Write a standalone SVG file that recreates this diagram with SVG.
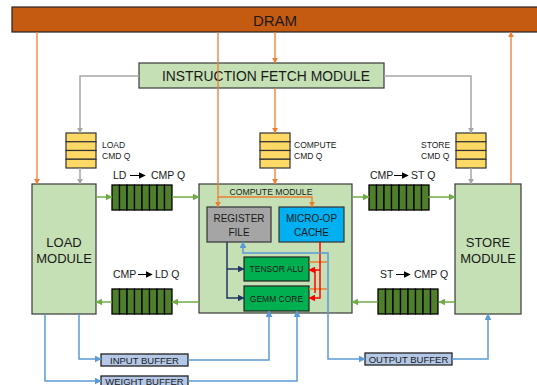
<svg xmlns="http://www.w3.org/2000/svg" width="537" height="385" viewBox="0 0 537 385">
<defs>
<style>
text{font-family:"Liberation Sans",Arial,sans-serif;fill:#1a1a1a}
.mod{fill:#c5e0b4;stroke:#3a3a3a;stroke-width:1.2}
.q{fill:#ffd966;stroke:#333;stroke-width:1.2}
.sq{fill:#4f7f2a;stroke:#000;stroke-width:1.3}
.buf{fill:#b4c7e7;stroke:#222;stroke-width:1.3}
.or{stroke:#ed7d31;stroke-width:1.3;fill:none}
.gr{stroke:#a6a6a6;stroke-width:1.5;fill:none}
.gn{stroke:#70ad47;stroke-width:1.5;fill:none}
.lb{stroke:#5b9bd5;stroke-width:1.5;fill:none}
.db{stroke:#203864;stroke-width:1.5;fill:none}
.rd{stroke:#ff0000;stroke-width:1.5;fill:none}
.lbl{font-size:8.5px}
.big{font-size:13px}
</style>
<marker id="aO" viewBox="0 0 10 10" refX="9" refY="5" markerWidth="6" markerHeight="6" markerUnits="userSpaceOnUse" orient="auto-start-reverse"><path d="M0,0L10,5L0,10z" fill="#ed7d31"/></marker>
<marker id="aG" viewBox="0 0 10 10" refX="9" refY="5" markerWidth="6" markerHeight="6" markerUnits="userSpaceOnUse" orient="auto-start-reverse"><path d="M0,0L10,5L0,10z" fill="#a6a6a6"/></marker>
<marker id="aN" viewBox="0 0 10 10" refX="9" refY="5" markerWidth="7" markerHeight="7" markerUnits="userSpaceOnUse" orient="auto-start-reverse"><path d="M0,0L10,5L0,10z" fill="#70ad47"/></marker>
<marker id="aL" viewBox="0 0 10 10" refX="9" refY="5" markerWidth="7" markerHeight="7" markerUnits="userSpaceOnUse" orient="auto-start-reverse"><path d="M0,0L10,5L0,10z" fill="#5b9bd5"/></marker>
<marker id="aD" viewBox="0 0 10 10" refX="9" refY="5" markerWidth="7" markerHeight="7" markerUnits="userSpaceOnUse" orient="auto-start-reverse"><path d="M0,0L10,5L0,10z" fill="#203864"/></marker>
<marker id="aR" viewBox="0 0 10 10" refX="9" refY="5" markerWidth="7" markerHeight="7" markerUnits="userSpaceOnUse" orient="auto-start-reverse"><path d="M0,0L10,5L0,10z" fill="#ff0000"/></marker>
<marker id="aK" viewBox="0 0 10 10" refX="9" refY="5" markerWidth="7" markerHeight="7" markerUnits="userSpaceOnUse" orient="auto-start-reverse"><path d="M0,0L10,5L0,10z" fill="#000"/></marker>
<g id="slots">
<rect class="sq" x="0" y="0" width="7.5" height="25"/><rect class="sq" x="7.5" y="0" width="7.5" height="25"/><rect class="sq" x="15" y="0" width="7.5" height="25"/><rect class="sq" x="22.5" y="0" width="7.5" height="25"/><rect class="sq" x="30" y="0" width="7.5" height="25"/><rect class="sq" x="37.5" y="0" width="7.5" height="25"/><rect class="sq" x="45" y="0" width="7.5" height="25"/><rect class="sq" x="52.5" y="0" width="7.5" height="25"/>
</g>
<g id="cmdq">
<rect class="q" x="0" y="0" width="30" height="8.75"/><rect class="q" x="0" y="8.75" width="30" height="8.75"/><rect class="q" x="0" y="17.5" width="30" height="8.75"/><rect class="q" x="0" y="26.25" width="30" height="8.75"/>
</g>
</defs>
<rect width="537" height="385" fill="#fff"/>

<g id="dram">
<rect x="12" y="7" width="530" height="25" fill="#c55a11" stroke="#222" stroke-width="1.2"/>
<text x="275" y="25.5" font-size="15" text-anchor="middle">DRAM</text>
</g>

<g id="ifm">
<rect class="mod" x="139" y="63" width="245" height="25"/>
<text x="266" y="81" font-size="14.5" text-anchor="middle" textLength="208" lengthAdjust="spacingAndGlyphs">INSTRUCTION FETCH MODULE</text>
</g>

<g id="load-cmd-q">
<use href="#cmdq" x="66" y="133"/>
<text class="lbl" x="102" y="148">LOAD</text>
<text class="lbl" x="102" y="159">CMD Q</text>
</g>
<g id="compute-cmd-q">
<use href="#cmdq" x="260" y="133"/>
<text class="lbl" x="294" y="148">COMPUTE</text>
<text class="lbl" x="294" y="159">CMD Q</text>
</g>
<g id="store-cmd-q">
<use href="#cmdq" x="456" y="133"/>
<text class="lbl" x="421" y="148">STORE</text>
<text class="lbl" x="421" y="159">CMD Q</text>
</g>

<g id="load-module">
<rect class="mod" x="32" y="184" width="64" height="130"/>
<text class="big" x="64" y="247" text-anchor="middle">LOAD</text>
<text class="big" x="64" y="263" text-anchor="middle">MODULE</text>
</g>
<g id="store-module">
<rect class="mod" x="455" y="184" width="66" height="130"/>
<text class="big" x="488" y="247" text-anchor="middle">STORE</text>
<text class="big" x="488" y="263" text-anchor="middle">MODULE</text>
</g>

<g id="ld-cmp-q">
<use href="#slots" x="112" y="185"/>
<text x="113" y="179" font-size="10.5">LD</text>
<path d="M130,175.5H145" stroke="#000" stroke-width="1" marker-end="url(#aK)"/>
<text x="151" y="179" font-size="10.5">CMP Q</text>
</g>
<g id="cmp-st-q">
<use href="#slots" x="369" y="185"/>
<text x="370" y="179" font-size="10.5">CMP</text>
<path d="M394,175.5H408" stroke="#000" stroke-width="1" marker-end="url(#aK)"/>
<text x="411" y="179" font-size="10.5">ST Q</text>
</g>
<g id="cmp-ld-q">
<use href="#slots" x="112" y="289"/>
<text x="113" y="278" font-size="10.5">CMP</text>
<path d="M138,274.5H152" stroke="#000" stroke-width="1" marker-end="url(#aK)"/>
<text x="155" y="278" font-size="10.5">LD Q</text>
</g>
<g id="st-cmp-q">
<use href="#slots" x="378" y="289"/>
<text x="380" y="278" font-size="10.5">ST</text>
<path d="M396,274.5H410" stroke="#000" stroke-width="1" marker-end="url(#aK)"/>
<text x="414" y="278" font-size="10.5">CMP Q</text>
</g>

<g id="compute-module">
<rect class="mod" x="199" y="184" width="153" height="129"/>
<text x="271" y="194.5" font-size="9.5" text-anchor="middle" textLength="83" lengthAdjust="spacingAndGlyphs">COMPUTE MODULE</text>
</g>
<g id="register-file">
<rect x="207" y="207" width="64" height="35" fill="#a5a5a5" stroke="#333" stroke-width="1.2"/>
<text x="239" y="222" font-size="10" text-anchor="middle" fill="#333">REGISTER</text>
<text x="239" y="235.5" font-size="10" text-anchor="middle" fill="#333">FILE</text>
</g>
<g id="micro-op-cache">
<rect x="279" y="207" width="65" height="35" fill="#00b0f0" stroke="#333" stroke-width="1.2"/>
<text x="311.5" y="222" font-size="10" text-anchor="middle">MICRO-OP</text>
<text x="311.5" y="235.5" font-size="10" text-anchor="middle">CACHE</text>
</g>
<g id="tensor-alu">
<rect x="244" y="257" width="65" height="24" fill="#00b050" stroke="#222" stroke-width="1.2"/>
<text x="276.5" y="272" font-size="8.5" text-anchor="middle">TENSOR ALU</text>
</g>
<g id="gemm-core">
<rect x="244" y="286" width="65" height="25" fill="#00b050" stroke="#222" stroke-width="1.2"/>
<text x="276.5" y="301.5" font-size="8.5" text-anchor="middle">GEMM CORE</text>
</g>

<g id="input-buffer">
<rect class="buf" x="101" y="354" width="87" height="12"/>
<text x="144.5" y="363.5" font-size="9.5" text-anchor="middle" fill="#222">INPUT BUFFER</text>
</g>
<g id="weight-buffer">
<rect class="buf" x="101" y="376" width="87" height="12"/>
<text x="144.5" y="384.5" font-size="9.5" text-anchor="middle" fill="#222">WEIGHT BUFFER</text>
</g>
<g id="output-buffer">
<rect class="buf" x="365" y="353" width="87" height="12"/>
<text x="408.5" y="362.5" font-size="9.5" text-anchor="middle" fill="#222">OUTPUT BUFFER</text>
</g>

<g id="connectors">
<path class="or" d="M37,32V184" marker-end="url(#aO)"/>
<path class="or" d="M218,32V207" marker-end="url(#aO)"/>
<path class="or" d="M218,197H312V207" marker-end="url(#aO)"/>
<path class="or" d="M275,32V63" marker-end="url(#aO)"/>
<path class="or" d="M275,88V133" marker-end="url(#aO)"/>
<path class="or" d="M275,168V184" marker-end="url(#aO)"/>
<path class="or" d="M511,184V32" marker-end="url(#aO)"/>
<path class="or" d="M309,262H327M309,289H327"/>
<path class="gr" d="M139,76H80V133" marker-end="url(#aG)"/>
<path class="gr" d="M80,168V184" marker-end="url(#aG)"/>
<path class="gr" d="M384,76H471V133" marker-end="url(#aG)"/>
<path class="gr" d="M471,168V184" marker-end="url(#aG)"/>
<path class="gn" d="M96,197H112" marker-end="url(#aN)"/>
<path class="gn" d="M172,197H199" marker-end="url(#aN)"/>
<path class="gn" d="M352,197H369" marker-end="url(#aN)"/>
<path class="gn" d="M428,197H455" marker-end="url(#aN)"/>
<path class="gn" d="M199,302H172" marker-end="url(#aN)"/>
<path class="gn" d="M112,302H96" marker-end="url(#aN)"/>
<path class="gn" d="M455,302H439" marker-end="url(#aN)"/>
<path class="gn" d="M378,302H352" marker-end="url(#aN)"/>
<path class="db" d="M227,242V298H244" marker-end="url(#aD)"/>
<path class="db" d="M227,269H244" marker-end="url(#aD)"/>
<path class="rd" d="M320,242V298H309" marker-end="url(#aR)"/>
<path class="rd" d="M320,270H309" marker-end="url(#aR)"/>
<path class="rd" d="M315,270V293"/>
<path class="lb" d="M79,314V359H101" marker-end="url(#aL)"/>
<path class="lb" d="M45,314V381H101" marker-end="url(#aL)"/>
<path class="lb" d="M188,360H269V311" marker-end="url(#aL)"/>
<path class="lb" d="M188,381H297V311" marker-end="url(#aL)"/>
<path class="lb" d="M243,242V253H328V359H365" marker-start="url(#aL)" marker-end="url(#aL)"/>
<path class="lb" d="M452,359H488V314" marker-end="url(#aL)"/>
</g>
</svg>
